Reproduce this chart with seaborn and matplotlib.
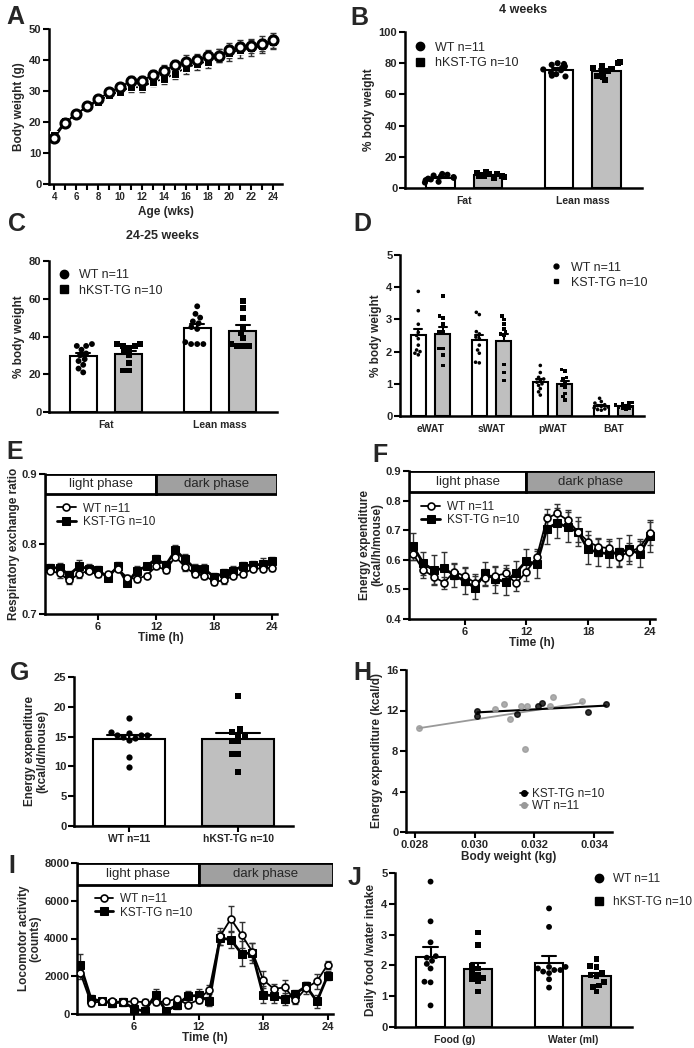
import numpy as np
import pandas as pd
import matplotlib
matplotlib.use("Agg")
import matplotlib.pyplot as plt
from matplotlib.lines import Line2D
import seaborn as sns

# ---------------- data ----------------
# A: body weight curve
weeks = list(range(4, 25))
bw_wt = [14.8, 19.8, 22.6, 25.0, 27.4, 29.6, 31.2, 33.3, 33.3, 35.2, 36.5, 38.3, 39.5, 39.9, 41.2, 41.4, 43.1, 44.2, 44.6, 45.3, 46.3]
bw_wt_se = [1.0, 0.8, 0.8, 0.8, 1.0, 1.0, 1.2, 1.5, 1.5, 1.5, 1.8, 1.8, 2.0, 2.0, 2.0, 2.2, 2.5, 2.3, 2.3, 2.3, 2.3]
bw_tg = [15.8, 20.2, 22.6, 25.0, 26.6, 28.7, 29.8, 31.2, 31.2, 33.0, 33.8, 35.6, 37.4, 38.7, 39.5, 41.4, 42.2, 43.3, 43.9, 44.6, 45.7]
bw_tg_se = [1.0, 0.8, 0.8, 0.8, 1.0, 1.0, 1.2, 1.5, 1.5, 1.5, 1.5, 1.8, 2.0, 2.0, 2.0, 2.2, 2.5, 2.5, 2.5, 2.3, 2.3]

# B: body composition at 4 weeks
comp_cats = ["Fat", "Lean mass"]
b_wt = [[9, 8.5, 8, 7.5, 7, 6.5, 6, 5.5, 5, 4, 3.5],
        [80, 79.5, 79, 78, 77, 76, 75.5, 74, 73, 72, 71.5]]
b_tg = [[10, 9.5, 9, 9, 8.5, 8, 8, 7.5, 7, 6.5],
        [81, 80, 78, 77, 76, 75, 74, 72, 71, 69]]

# C: body composition at 24-25 weeks
c_wt = [[36, 35, 35, 33, 31, 30, 28, 27, 25, 23, 21],
        [56, 52, 50, 48, 47, 45, 44, 37, 36, 36, 36]]
c_tg = [[36, 36, 35, 35, 34, 32, 30, 26, 22, 22],
        [59, 55, 50, 45, 42, 39, 36, 35, 35, 35]]

# D: fat depots
depot_cats = ["eWAT", "sWAT", "pWAT", "BAT"]
d_wt = [[3.87, 3.27, 2.85, 2.6, 2.5, 2.4, 2.2, 2.05, 2.0, 1.95, 1.9],
        [3.22, 3.15, 2.62, 2.55, 2.45, 2.4, 2.2, 2.05, 1.95, 1.67, 1.65],
        [1.57, 1.35, 1.2, 1.15, 1.1, 1.05, 1.0, 0.95, 0.85, 0.75, 0.65],
        [0.55, 0.45, 0.4, 0.35, 0.32, 0.3, 0.28, 0.25, 0.22, 0.2, 0.18]]
d_tg = [[3.73, 3.1, 3.05, 2.85, 2.6, 2.6, 2.1, 2.1, 1.9, 1.57],
        [3.1, 3.0, 2.85, 2.7, 2.6, 2.55, 2.5, 1.6, 1.35, 1.1],
        [1.45, 1.4, 1.2, 1.15, 1.05, 0.95, 0.9, 0.7, 0.6, 0.5],
        [0.42, 0.4, 0.38, 0.35, 0.32, 0.3, 0.28, 0.25, 0.25, 0.2]]

# E: respiratory exchange ratio over 24 h
hours = list(range(1, 25))
rer_wt = [0.762, 0.758, 0.748, 0.757, 0.762, 0.757, 0.757, 0.765, 0.752, 0.750, 0.755, 0.768,
          0.763, 0.782, 0.767, 0.757, 0.755, 0.746, 0.748, 0.755, 0.757, 0.765, 0.765, 0.766]
rer_wt_se = [0.004, 0.006, 0.005, 0.005, 0.004, 0.004, 0.003, 0.004, 0.004, 0.004, 0.003, 0.004,
             0.004, 0.005, 0.005, 0.004, 0.005, 0.004, 0.005, 0.004, 0.004, 0.004, 0.004, 0.005]
rer_tg = [0.766, 0.766, 0.756, 0.768, 0.765, 0.763, 0.752, 0.768, 0.744, 0.762, 0.768, 0.779,
          0.770, 0.791, 0.778, 0.765, 0.764, 0.753, 0.758, 0.762, 0.769, 0.770, 0.771, 0.776]
rer_tg_se = [0.005, 0.007, 0.005, 0.009, 0.006, 0.005, 0.004, 0.006, 0.004, 0.006, 0.004, 0.006,
             0.006, 0.007, 0.008, 0.007, 0.007, 0.006, 0.006, 0.006, 0.006, 0.006, 0.009, 0.006]

# F: hourly energy expenditure
ee_wt = [0.619, 0.565, 0.543, 0.523, 0.560, 0.545, 0.523, 0.540, 0.546, 0.554, 0.520, 0.560,
         0.608, 0.740, 0.757, 0.734, 0.695, 0.661, 0.644, 0.639, 0.610, 0.627, 0.641, 0.689]
ee_wt_se = [0.02, 0.025, 0.025, 0.02, 0.025, 0.03, 0.03, 0.03, 0.03, 0.03, 0.025, 0.03,
            0.03, 0.03, 0.03, 0.035, 0.035, 0.035, 0.03, 0.03, 0.03, 0.03, 0.03, 0.04]
ee_tg = [0.645, 0.588, 0.565, 0.571, 0.548, 0.528, 0.506, 0.554, 0.534, 0.526, 0.557, 0.596,
         0.585, 0.705, 0.725, 0.710, 0.695, 0.635, 0.625, 0.620, 0.625, 0.635, 0.620, 0.680]
ee_tg_se = [0.045, 0.04, 0.05, 0.055, 0.04, 0.045, 0.04, 0.04, 0.045, 0.045, 0.04, 0.04,
            0.045, 0.05, 0.05, 0.05, 0.05, 0.05, 0.045, 0.045, 0.05, 0.05, 0.045, 0.055]

# G: daily energy expenditure
g_labels = ["WT n=11", "hKST-TG n=10"]
g_wt = [18.2, 15.8, 15.6, 15.3, 15.3, 15.3, 15.0, 14.8, 14.5, 11.5, 9.9]
g_tg = [21.8, 16.3, 15.8, 15.3, 15.3, 14.3, 14.2, 12.0, 12.0, 9.1]

# H: energy expenditure vs body weight
h_tg_bw = [0.03009, 0.03009, 0.03142, 0.03213, 0.03224, 0.03380, 0.03439]
h_tg_ee = [12.0, 11.5, 11.7, 12.4, 12.7, 11.9, 12.6]
h_wt_bw = [0.02814, 0.03067, 0.03098, 0.03117, 0.03156, 0.03176, 0.03167, 0.03253, 0.03264, 0.03361]
h_wt_ee = [10.3, 12.1, 12.6, 11.2, 12.4, 12.4, 8.2, 12.4, 13.3, 12.9]

# I: locomotor activity
loc_wt = [2190, 580, 670, 670, 640, 670, 620, 620, 670, 810, 490, 760,
          1290, 4120, 5040, 4200, 3300, 1820, 1330, 1410, 720, 1380, 1730, 2610]
loc_wt_se = [350, 150, 150, 150, 200, 150, 150, 150, 150, 150, 150, 200,
             250, 450, 700, 700, 450, 450, 250, 400, 200, 300, 400, 200]
loc_tg = [2610, 810, 670, 580, 640, 280, 140, 1020, 140, 490, 940, 990,
          670, 4030, 3940, 3200, 3230, 1020, 970, 790, 1080, 1470, 670, 2030]
loc_tg_se = [550, 200, 150, 200, 150, 200, 250, 300, 200, 200, 300, 350,
             250, 350, 450, 650, 550, 450, 400, 300, 200, 200, 350, 250]

# J: food / water intake
intake_cats = ["Food (g)", "Water (ml)"]
j_wt = [[4.72, 3.43, 2.75, 2.3, 2.25, 2.15, 2.05, 1.9, 1.47, 1.45, 0.7],
        [3.85, 3.25, 1.95, 1.9, 1.95, 1.85, 1.85, 1.8, 1.75, 1.55, 1.28]]
j_tg = [[3.07, 2.65, 1.97, 1.9, 1.75, 1.7, 1.6, 1.55, 1.5, 1.15],
        [2.2, 1.97, 1.95, 1.75, 1.7, 1.65, 1.45, 1.35, 1.3, 1.15]]

# ---------------- style ----------------
sns.set_theme(style="ticks")
plt.rcParams["font.family"] = ["Liberation Sans", "DejaVu Sans"]
plt.rcParams["font.weight"] = "bold"
plt.rcParams["axes.labelweight"] = "bold"
plt.rcParams["axes.labelsize"] = 8.5
plt.rcParams["axes.linewidth"] = 1.8
np.random.seed(3)  # only for the horizontal jitter of dots

BAR_GREY = "#bfbfbf"
DARK = "#a0a0a0"

fig = plt.figure(figsize=(6.94, 10.48), dpi=100)
W, H = 694, 1048


def add_ax(l, t, r, b):
    return fig.add_axes([l / W, 1 - b / H, (r - l) / W, (b - t) / H])


def style(ax, size=8):
    sns.despine(ax=ax)
    ax.tick_params(width=1.5, length=4, labelsize=size, pad=1.5, color="black")
    ax.spines["left"].set_color("black")
    ax.spines["bottom"].set_color("black")


def letter(x, y, s):
    fig.text(x / W, 1 - y / H, s, fontsize=18, fontweight="bold", ha="center", va="center")


def long_df(cats, wt, tg):
    rows = []
    for c, vals in zip(cats, wt):
        rows += [(c, "WT", v) for v in vals]
    for c, vals in zip(cats, tg):
        rows += [(c, "TG", v) for v in vals]
    return pd.DataFrame(rows, columns=["cat", "group", "value"])


def bar_panel(ax, cats, wt, tg, msize, kind="swarm"):
    df = long_df(cats, wt, tg)
    sns.barplot(data=df, x="cat", y="value", hue="group", order=cats, hue_order=["WT", "TG"],
                palette={"WT": "white", "TG": BAR_GREY}, saturation=1, width=0.8, gap=0.4,
                errorbar="se", capsize=0.25,
                err_kws={"color": "black", "linewidth": 1.5, "zorder": 1.5},
                edgecolor="black", linewidth=1.5, legend=False, ax=ax, zorder=2)
    for grp, mk in [("WT", "o"), ("TG", "s")]:
        common = dict(data=df[df.group == grp], x="cat", y="value", hue="group", order=cats,
                      hue_order=["WT", "TG"], palette={"WT": "black", "TG": "black"},
                      dodge=True, marker=mk, size=msize, legend=False, ax=ax, zorder=3)
        if kind == "swarm":
            sns.swarmplot(**common)
        else:
            sns.stripplot(jitter=0.28, **common)
    ax.set_xlabel("")
    ax.set_xlim(-0.5, len(cats) - 0.5)
    ax.tick_params(axis="x", length=0, pad=6)


def marker_legend(ax, labels, anchor, msize=6, fs=9, spacing=0.3):
    handles = [Line2D([0], [0], marker=m, color="black", lw=0, markersize=msize) for m in ["o", "s"]]
    ax.legend(handles, labels, loc="upper left", bbox_to_anchor=anchor, frameon=False,
              prop={"weight": "normal", "size": fs}, handlelength=0.8, handletextpad=0.8,
              labelspacing=spacing, borderaxespad=0)


def phase_box(ax, x0, x1):
    ax.axvspan(x0, 12, ymin=0.855, ymax=1, facecolor="white", edgecolor="black", lw=2, zorder=5)
    ax.axvspan(12, x1, ymin=0.855, ymax=1, facecolor=DARK, edgecolor="black", lw=2, zorder=5)
    tr = ax.get_xaxis_transform()
    ax.text((x0 + 12) / 2, 0.927, "light phase", transform=tr, ha="center", va="center",
            fontsize=9.5, fontweight="normal", zorder=6)
    ax.text((12 + x1) / 2, 0.927, "dark phase", transform=tr, ha="center", va="center",
            fontsize=9.5, fontweight="normal", zorder=6)


def time_panel(ax, wt, wt_se, tg, tg_se, legend_anchor):
    ax.errorbar(hours, tg, yerr=tg_se, fmt="none", ecolor="#333333", elinewidth=1, capsize=2.5, zorder=2)
    ax.errorbar(hours, wt, yerr=wt_se, fmt="none", ecolor="#333333", elinewidth=1, capsize=2.5, zorder=2)
    sns.lineplot(x=hours, y=tg, color="black", marker="s", markersize=5.5, markeredgecolor="black",
                 lw=2, label="KST-TG n=10", ax=ax, zorder=3)
    sns.lineplot(x=hours, y=wt, color="black", marker="o", markersize=5, markerfacecolor="white",
                 markeredgecolor="black", markeredgewidth=1.2, lw=1.3, label="WT n=11", ax=ax, zorder=4)
    h, l = ax.get_legend_handles_labels()
    ax.legend(h[::-1], l[::-1], loc="upper left", bbox_to_anchor=legend_anchor, frameon=False,
              prop={"weight": "normal", "size": 8.5}, handlelength=1.6, handletextpad=0.6,
              labelspacing=0.1, borderaxespad=0)
    ax.set_xticks([6, 12, 18, 24])
    ax.set_xlabel("Time (h)", labelpad=0)


# ---------------- A ----------------
ax = add_ax(49, 29, 282, 184)
ax.errorbar(weeks, bw_tg, yerr=bw_tg_se, fmt="none", ecolor="#333333", elinewidth=1, capsize=2.5, zorder=2)
ax.errorbar(weeks, bw_wt, yerr=bw_wt_se, fmt="none", ecolor="#333333", elinewidth=1, capsize=2.5, zorder=2)
sns.lineplot(x=weeks, y=bw_tg, color="black", marker="s", markersize=6, lw=1.2, ax=ax, zorder=3)
sns.lineplot(x=weeks, y=bw_wt, color="black", marker="o", markersize=6.5, markerfacecolor="white",
             markeredgecolor="black", markeredgewidth=2.2, lw=1.2, ax=ax, zorder=4)
ax.set_xlim(3.5, 24.8)
ax.set_ylim(0, 50)
ax.set_xticks(weeks)
ax.set_xticklabels([str(w) if w % 2 == 0 else "" for w in weeks])
ax.set_yticks(range(0, 51, 10))
style(ax)
ax.tick_params(axis="x", labelsize=7)
ax.set_xlabel("Age (wks)", labelpad=3)
ax.set_ylabel("Body weight (g)", labelpad=3)
letter(15, 17, "A")

# ---------------- B ----------------
ax = add_ax(405, 32, 642, 188)
bar_panel(ax, comp_cats, b_wt, b_tg, 4.4, kind="strip")
ax.set_ylim(0, 100)
ax.set_yticks(range(0, 101, 20))
style(ax)
ax.tick_params(axis="x", length=0, pad=6, labelsize=7.5)
ax.set_ylabel("% body weight", labelpad=3)
ax.set_title("4 weeks", fontsize=9, fontweight="bold", pad=14)
marker_legend(ax, ["WT n=11", "hKST-TG n=10"], (0.02, 0.97))
letter(359, 18, "B")

# ---------------- C ----------------
ax = add_ax(49, 261, 277, 412)
bar_panel(ax, comp_cats, c_wt, c_tg, 4.2)
ax.set_ylim(0, 80)
ax.set_yticks(range(0, 81, 20))
style(ax)
ax.tick_params(axis="x", length=0, pad=6, labelsize=7.5)
ax.set_ylabel("% body weight", labelpad=3)
ax.set_title("24-25 weeks", fontsize=9, fontweight="bold", pad=16)
marker_legend(ax, ["WT n=11", "hKST-TG n=10"], (0.02, 0.98))
letter(17, 224, "C")

# ---------------- D ----------------
ax = add_ax(400, 255, 644, 416)
bar_panel(ax, depot_cats, d_wt, d_tg, 2.6)
ax.set_ylim(0, 5)
ax.set_yticks(range(0, 6))
style(ax)
ax.tick_params(axis="x", length=0, pad=6, labelsize=7.5)
ax.set_ylabel("% body weight", labelpad=3)
marker_legend(ax, ["WT n=11", "KST-TG n=10"], (0.6, 0.99), msize=3.5, fs=9, spacing=0.25)
letter(362, 224, "D")

# ---------------- E ----------------
ax = add_ax(45, 474, 277, 614)
time_panel(ax, rer_wt, rer_wt_se, rer_tg, rer_tg_se, (0.03, 0.83))
ax.set_xlim(0.5, 24.5)
ax.set_ylim(0.7, 0.9)
ax.set_yticks([0.7, 0.8, 0.9])
phase_box(ax, 0.5, 24.5)
style(ax)
ax.set_ylabel("Respiratory exchange ratio", labelpad=1)
letter(15, 452, "E")

# ---------------- F ----------------
ax = add_ax(409, 471, 655, 619)
time_panel(ax, ee_wt, ee_wt_se, ee_tg, ee_tg_se, (0.03, 0.83))
ax.set_xlim(0.6, 24.5)
ax.set_ylim(0.4, 0.9)
ax.set_yticks([0.4, 0.5, 0.6, 0.7, 0.8, 0.9])
phase_box(ax, 0.6, 24.5)
style(ax)
ax.set_ylabel("Energy expenditure\n(kcal/h/mouse)", labelpad=2, linespacing=1.0)
letter(380, 455, "F")

# ---------------- G ----------------
ax = add_ax(74, 677, 293, 826)
g_df = pd.DataFrame({"group": [g_labels[0]] * len(g_wt) + [g_labels[1]] * len(g_tg),
                     "value": g_wt + g_tg})
sns.barplot(data=g_df, x="group", y="value", hue="group", order=g_labels, hue_order=g_labels,
            palette={g_labels[0]: "white", g_labels[1]: BAR_GREY}, saturation=1, width=0.66,
            errorbar="se", capsize=0.4, err_kws={"color": "black", "linewidth": 1.5, "zorder": 1.5},
            edgecolor="black", linewidth=1.5, legend=False, ax=ax, zorder=2)
for lab, mk in zip(g_labels, ["o", "s"]):
    sns.swarmplot(data=g_df[g_df.group == lab], x="group", y="value", order=g_labels,
                  color="black", marker=mk, size=4.5, ax=ax, zorder=3)
ax.set_xlim(-0.5, 1.5)
ax.set_ylim(0, 25)
ax.set_yticks(range(0, 26, 5))
style(ax)
ax.tick_params(axis="x", labelsize=7.5)
ax.set_xlabel("")
ax.set_ylabel("Energy expenditure\n(kcal/d/mouse)", labelpad=4, linespacing=1.0)
letter(20, 673, "G")

# ---------------- H ----------------
ax = add_ax(406, 670, 612, 832)
sns.regplot(x=h_wt_bw, y=h_wt_ee, ci=None, color="#999999", scatter_kws={"s": 16, "zorder": 3},
            line_kws={"lw": 1.3}, ax=ax)
sns.regplot(x=h_tg_bw, y=h_tg_ee, ci=None, color="black", scatter_kws={"s": 16, "zorder": 4},
            line_kws={"lw": 1.5}, ax=ax)
ax.set_xlim(0.0277, 0.0346)
ax.set_ylim(0, 16)
ax.set_yticks(range(0, 17, 4))
ax.set_xticks([0.028, 0.030, 0.032, 0.034])
ax.set_xticklabels(["0.028", "0.030", "0.032", "0.034"])
style(ax)
ax.set_xlabel("Body weight (kg)", labelpad=1)
ax.set_ylabel("Energy expenditure (kcal/d)", labelpad=2)
hh = [Line2D([0], [0], color="black", marker="o", markersize=4, lw=1.2),
      Line2D([0], [0], color="#999999", marker="o", markersize=4, lw=1.2)]
ax.legend(hh, ["KST-TG n=10", "WT n=11"], loc="upper left", bbox_to_anchor=(0.53, 0.3), frameon=False,
          prop={"weight": "normal", "size": 8.5}, handlelength=0.7, handletextpad=0.3,
          labelspacing=0.0, borderaxespad=0)
letter(362, 673, "H")

# ---------------- I ----------------
ax = add_ax(77, 863, 333, 1014)
time_panel(ax, loc_wt, loc_wt_se, loc_tg, loc_tg_se, (0.05, 0.83))
ax.set_xlim(0.7, 24.5)
ax.set_ylim(0, 8000)
ax.set_yticks(range(0, 8001, 2000))
phase_box(ax, 0.7, 24.5)
style(ax)
ax.set_ylabel("Locomotor activity\n(counts)", labelpad=2, linespacing=1.0)
letter(12, 866, "I")

# ---------------- J ----------------
ax = add_ax(395, 873, 632, 1027)
bar_panel(ax, intake_cats, j_wt, j_tg, 4.2)
ax.set_ylim(0, 5)
ax.set_yticks(range(0, 6))
style(ax)
ax.tick_params(axis="x", length=0, pad=6, labelsize=7.5)
ax.set_ylabel("Daily food /water intake", labelpad=3)
marker_legend(ax, ["WT n=11", "hKST-TG n=10"], (0.82, 1.03), fs=8.5, spacing=0.9)
letter(355, 878, "J")

fig.savefig("out.png", dpi=100, facecolor="white")
